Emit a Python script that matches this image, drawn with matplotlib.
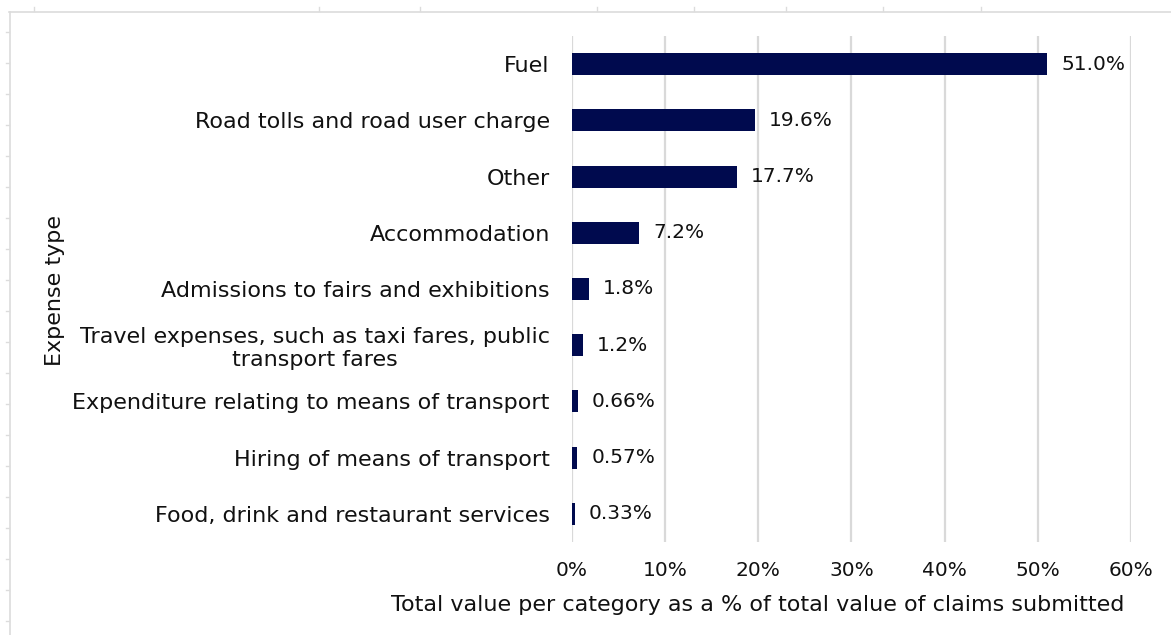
import matplotlib
matplotlib.use("Agg")
import matplotlib.pyplot as plt
from matplotlib.lines import Line2D

categories = [
    "Fuel",
    "Road tolls and road user charge",
    "Other",
    "Accommodation",
    "Admissions to fairs and exhibitions",
    "Travel expenses, such as taxi fares, public\ntransport fares",
    "Expenditure relating to means of transport",
    "Hiring of means of transport",
    "Food, drink and restaurant services",
]
values = [51.0, 19.6, 17.7, 7.2, 1.8, 1.2, 0.66, 0.57, 0.33]
value_labels = ["51.0%", "19.6%", "17.7%", "7.2%", "1.8%", "1.2%", "0.66%", "0.57%", "0.33%"]
x_ticks = [0, 10, 20, 30, 40, 50, 60]
x_tick_labels = ["0%", "10%", "20%", "30%", "40%", "50%", "60%"]

plt.rcParams["font.family"] = ["DejaVu Sans"]
BAR = "#000A4E"
GRID = "#D9D9D9"
TXT = "#111111"

fig = plt.figure(figsize=(11.71, 6.35), dpi=100)
ax = fig.add_axes([0.4885, 0.1465, 0.9658 - 0.4885, 0.9433 - 0.1465])

pos = list(range(len(categories)))
ax.barh(pos, values, height=0.39, color=BAR, zorder=3)
for p, v, lab in zip(pos, values, value_labels):
    ax.annotate(lab, (v, p), xytext=(10, 0), textcoords="offset points",
                va="center", ha="left", fontsize=14.5, color=TXT)

ax.set_xlim(0, 60)
ax.set_ylim(len(categories) - 0.5, -0.5)
ax.set_xticks(x_ticks)
ax.set_xticklabels(x_tick_labels, fontsize=14.5, color=TXT)
ax.set_yticks(pos)
ax.set_yticklabels(categories, fontsize=16, color=TXT, multialignment="center")
ax.tick_params(axis="both", length=0)
ax.tick_params(axis="y", pad=16)
ax.tick_params(axis="x", pad=14)
ax.xaxis.grid(True, color=GRID, linewidth=1.6, zorder=0)
for s in ax.spines.values():
    s.set_visible(False)

fig.text(758 / 1171, 1 - 605 / 635,
         "Total value per category as a % of total value of claims submitted",
         ha="center", va="center", fontsize=16, color=TXT)
fig.text(55 / 1171, 1 - 290 / 635, "Expense type", rotation=90, ha="center", va="center",
         fontsize=16, color=TXT)

# sheet frame lines along the top and left edges
fig.add_artist(Line2D([9 / 1171, 1], [1 - 12 / 635, 1 - 12 / 635],
                      transform=fig.transFigure, color="#DCDCDC", linewidth=1.2))
fig.add_artist(Line2D([10 / 1171, 10 / 1171], [1 - 12 / 635, 0],
                      transform=fig.transFigure, color="#DCDCDC", linewidth=1.2))
for xp in [34, 319, 420, 597, 694, 786, 883, 981]:
    fig.add_artist(Line2D([xp / 1171, xp / 1171], [1 - 7 / 635, 1 - 11 / 635],
                          transform=fig.transFigure, color="#DCDCDC", linewidth=1))
for yp in [32, 63, 94, 125, 156, 187, 218, 249, 280, 311, 342, 373, 404, 435, 466, 497, 528, 559, 590, 621]:
    fig.add_artist(Line2D([6 / 1171, 9 / 1171], [1 - yp / 635, 1 - yp / 635],
                          transform=fig.transFigure, color="#DCDCDC", linewidth=1))

fig.savefig("out.png", dpi=100, facecolor="white")
